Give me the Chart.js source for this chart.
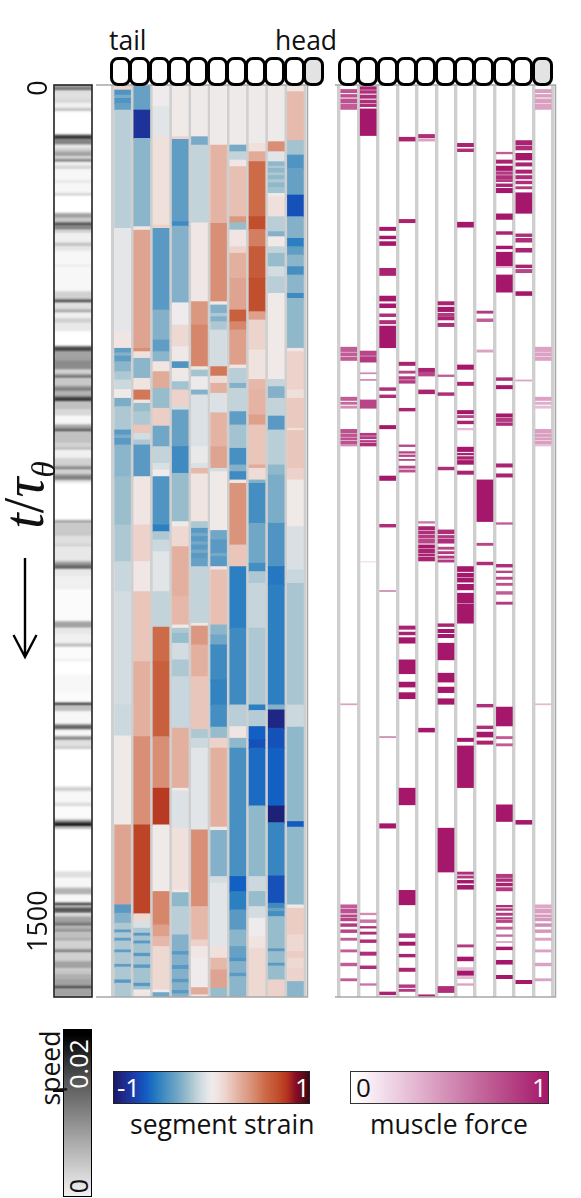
<!DOCTYPE html>
<html>
<head>
<meta charset="utf-8">
<script src="https://cdn.jsdelivr.net/npm/chart.js@4"></script>
<style>
html, body { margin: 0; padding: 0; background: #fff; }
#page { position: relative; width: 581px; height: 1198px; overflow: hidden; font-family: "Open Sans", sans-serif; color: #111; }
canvas { position: absolute; }
.lbl { position: absolute; white-space: nowrap; line-height: 1; }
.rot { transform: translate(-50%, -50%) rotate(-90deg); }
.seg { position: absolute; box-sizing: border-box; top: 57px; height: 29px; width: 21px; border: 3px solid #000; border-radius: 8px; background: #fff; }
.bar { position: absolute; box-sizing: border-box; }
</style>
</head>
<body>
<div id="page">
  <canvas id="speedChart" width="93" height="940" style="left:0;top:70px"></canvas>
  <canvas id="strainChart" width="216" height="916" style="left:94px;top:83px"></canvas>
  <canvas id="forceChart" width="224" height="916" style="left:333px;top:83px"></canvas>

  <div class="lbl" style="left:109px;top:27px;font-size:26.5px">tail</div>
  <div class="lbl" style="left:275px;top:27px;font-size:26.5px">head</div>
  <div id="segsA"></div>
  <div id="segsB"></div>

  <div class="lbl rot" style="left:24px;top:495px;font:italic 56px 'Liberation Serif'">t<span style="font-style:normal">/</span>τ<sub style="font-size:33px;line-height:0">θ</sub></div>
  <svg style="position:absolute;left:10px;top:555px" width="32" height="106" fill="none" stroke="#000" stroke-width="2.4">
    <path d="M15 3V102M3.5 80L15 102L26.5 80"/>
  </svg>

  <div id="speedBar" class="bar" style="left:63px;top:1029px;width:29px;height:168px;border:1px solid #000"></div>
  <div style="position:absolute;left:53px;top:1090px;width:10px;height:1.5px;background:#000"></div>
  <div class="lbl rot" style="left:50px;top:1068px;font-size:26.5px">speed</div>
  <div class="lbl rot" style="left:78px;top:1064px;font-size:25px;color:#fff">0.02</div>
  <div class="lbl rot" style="left:78px;top:1186px;font-size:25px">0</div>

  <div id="strainBar" class="bar" style="left:113px;top:1071px;width:197px;height:33px;border:1px solid #222"></div>
  <div class="lbl" style="left:117px;top:1074px;font-size:26px;color:#fff">-1</div>
  <div class="lbl" style="left:295px;top:1074px;font-size:26px;color:#fff">1</div>
  <div class="lbl" style="left:130px;top:1111px;font-size:26.5px">segment strain</div>

  <div id="forceBar" class="bar" style="left:350px;top:1071px;width:199px;height:33px;border:1px solid #333"></div>
  <div class="lbl" style="left:356px;top:1074px;font-size:26px">0</div>
  <div class="lbl" style="left:532px;top:1074px;font-size:26px;color:#fff">1</div>
  <div class="lbl" style="left:370px;top:1111px;font-size:26.5px">muscle force</div>
</div>
<script>
// time axis, runs are [end time, value], each run starts where the last one ended
const tMax = 1642;
const timeTicks = [0, 1500];

const speedRuns = [[5,.012],[10,.02],[24,.004],[33,.005],[42,.002],[48,.008],[90,0],[98,.026],[108,.016],[114,.003],[120,.006],[129,.012],[134,.005],[139,.017],[146,.002],[152,.006],[171,.001],[177,.003],[195,.001],[200,.006],[231,0],[240,.012],[248,.007],[253,.024],[261,.016],[267,.006],[284,.002],[291,.008],[300,.003],[324,.001],[328,.003],[372,.001],[387,.006],[392,.024],[405,.004],[410,.012],[420,.002],[429,.006],[444,.003],[471,0],[480,.024],[495,.012],[513,.015],[522,.006],[528,.018],[543,.007],[552,.016],[562,.01],[570,.026],[585,.008],[596,.005],[612,.001],[620,.012],[624,.024],[645,.008],[654,.006],[657,.012],[672,.002],[687,.006],[693,.016],[702,.006],[712,.016],[717,.004],[784,0],[789,.012],[813,.007],[826,.004],[832,.006],[858,.003],[864,.012],[872,.02],[885,.003],[909,.002],[966,.0005],[978,.012],[990,.003],[1006,.002],[1012,.009],[1035,.0005],[1038,.003],[1062,0],[1095,.001],[1113,.0005],[1117,.028],[1128,.008],[1152,.001],[1161,.02],[1173,.001],[1180,.015],[1192,.004],[1196,.008],[1264,0],[1272,.006],[1293,.001],[1299,.005],[1323,.0005],[1328,.012],[1335,.03],[1340,.01],[1416,0],[1428,.004],[1446,.001],[1458,.01],[1473,.001],[1478,.026],[1481,.004],[1491,.022],[1497,.004],[1509,.012],[1514,.02],[1521,.01],[1525,.016],[1533,.008],[1542,.01],[1557,.006],[1562,.018],[1578,.006],[1591,.012],[1600,.007],[1608,.01],[1623,.012],[1627,.026],[1642,.012]];

const strain1 = [[9,.15],[18,-.45],[24,-.33],[33,-.45],[45,-.38],[258,-.17],[444,-.04],[474,.05],[482,-.4],[488,-.3],[498,-.4],[516,-.28],[531,-.2],[548,-.12],[564,.02],[579,-.32],[621,-.2],[630,-.42],[636,-.32],[648,-.42],[705,-.28],[792,-.24],[858,-.2],[912,-.13],[1116,-.1],[1172,-.12],[1332,.02],[1476,.33],[1491,-.42],[1509,-.3],[1521,-.2],[1526,-.4],[1536,-.2],[1541,-.4],[1557,-.2],[1562,-.4],[1583,-.2],[1588,-.4],[1611,-.2],[1617,-.42],[1642,-.2]];
const strain2 = [[45,-.38],[96,-.85],[255,-.28],[261,.03],[474,.33],[480,.42],[492,.08],[528,-.28],[549,.06],[567,.5],[573,.06],[588,-.25],[612,-.2],[627,.2],[639,-.1],[648,-.2],[705,-.42],[792,.05],[858,.15],[912,.04],[1038,.2],[1173,.28],[1332,.42],[1492,.72],[1506,.12],[1518,-.08],[1527,-.2],[1532,-.42],[1541,-.22],[1546,-.42],[1563,-.22],[1569,-.42],[1584,-.22],[1590,-.42],[1617,-.22],[1623,-.42],[1629,-.22],[1634,.02],[1642,.05]];
const strain3 = [[39,.0],[93,-.05],[252,.08],[258,.15],[405,-.42],[459,-.3],[480,-.4],[498,-.28],[516,.05],[546,.3],[582,-.25],[614,.16],[651,-.35],[681,-.15],[693,-.08],[705,0],[792,-.45],[804,-.55],[819,-.2],[840,-.12],[912,-.05],[976,-.15],[1038,.55],[1173,.6],[1266,.42],[1332,.75],[1452,.02],[1512,.45],[1533,.35],[1551,.25],[1629,.12],[1634,0],[1642,-.35]];
const strain4 = [[93,.02],[98,.15],[246,-.4],[254,-.5],[392,-.3],[432,0],[471,.12],[498,.03],[510,-.45],[528,.03],[534,-.02],[549,-.22],[579,.15],[585,-.1],[651,-.38],[699,-.5],[786,-.25],[795,.02],[831,.12],[921,.28],[972,.25],[978,.02],[987,-.2],[1005,-.25],[1035,-.1],[1065,-.2],[1158,-.13],[1266,.28],[1271,.02],[1338,-.07],[1449,.08],[1454,.02],[1479,-.27],[1530,-.17],[1560,-.3],[1566,-.42],[1585,-.3],[1592,-.42],[1610,-.3],[1616,-.42],[1630,-.3],[1636,-.42],[1642,-.3]];
const strain5 = [[93,.01],[108,-.33],[248,-.15],[390,.04],[432,.38],[507,.45],[513,.06],[525,-.22],[549,-.01],[558,-.3],[651,-.07],[681,-.02],[690,-.07],[700,.25],[786,.06],[798,-.2],[807,-.42],[813,-.34],[822,-.42],[828,-.34],[837,-.42],[843,-.34],[852,-.42],[867,-.38],[969,-.15],[974,.02],[1008,.38],[1065,.28],[1160,.2],[1176,-.2],[1194,-.12],[1341,-.05],[1479,.42],[1539,.25],[1551,.15],[1572,.04],[1625,0],[1638,.3],[1642,.05]];
const strain6 = [[108,.01],[249,.27],[390,.42],[396,.02],[411,-.3],[417,-.2],[426,-.3],[441,-.2],[507,-.1],[524,.5],[537,.1],[555,.28],[590,-.07],[651,.27],[690,.33],[696,-.1],[802,.02],[819,-.35],[843,-.42],[849,-.34],[867,-.42],[873,.05],[972,.22],[990,-.28],[1008,-.35],[1071,-.5],[1116,-.53],[1156,-.48],[1176,-.25],[1194,.15],[1336,.28],[1342,.02],[1425,-.3],[1437,-.1],[1551,-.05],[1572,.08],[1593,.25],[1626,.33],[1642,-.25]];
const strain7 = [[108,.01],[120,-.33],[135,-.15],[147,.04],[237,.22],[248,.38],[261,-.25],[291,.05],[303,.15],[348,.28],[405,.33],[426,.6],[441,.45],[504,.35],[510,.05],[537,-.17],[546,-.3],[588,-.15],[612,-.4],[654,-.22],[684,-.47],[696,-.3],[711,-.5],[717,.05],[828,.4],[867,.2],[978,-.55],[1116,-.5],[1155,-.17],[1176,.05],[1194,-.27],[1425,-.47],[1452,-.66],[1485,-.55],[1521,-.42],[1551,-.28],[1572,-.38],[1578,-.45],[1599,-.3],[1605,-.42],[1642,-.28]];
const strain8 = [[105,.01],[120,.08],[138,.3],[237,.55],[260,.68],[291,.48],[348,.62],[408,.68],[423,.35],[477,.14],[530,.07],[549,.25],[594,.27],[612,.35],[684,.2],[690,.3],[711,.1],[717,-.3],[789,-.48],[861,-.35],[876,-.48],[897,-.2],[978,-.14],[1116,-.2],[1126,-.55],[1155,-.18],[1179,-.66],[1194,-.72],[1298,-.62],[1425,-.27],[1452,-.12],[1479,-.25],[1500,-.1],[1533,0],[1554,.06],[1642,.12]];
const strain9 = [[102,.01],[120,.42],[138,-.05],[146,-.27],[150,-.2],[158,-.27],[163,-.2],[170,-.27],[176,-.2],[184,-.27],[195,-.22],[201,.02],[237,.08],[264,-.17],[273,-.3],[276,.03],[291,.02],[303,-.15],[327,-.25],[345,-.1],[375,-.17],[530,.02],[543,-.14],[564,-.3],[596,-.15],[621,-.42],[684,-.17],[702,-.27],[789,-.32],[867,-.45],[900,-.58],[1116,-.55],[1125,-.3],[1158,-.92],[1194,-.72],[1298,-.66],[1328,-.95],[1424,-.52],[1473,-.72],[1482,-.5],[1488,-.38],[1497,-.48],[1555,-.25],[1560,-.42],[1581,-.25],[1586,-.42],[1611,-.25],[1642,.15]];
const strain10 = [[12,.05],[100,.24],[126,-.22],[150,-.45],[198,-.38],[237,-.72],[276,-.3],[291,-.55],[306,-.4],[327,-.28],[342,-.48],[375,-.28],[384,-.5],[474,-.27],[480,.05],[549,.15],[564,.08],[618,.18],[622,.08],[690,.2],[711,.15],[795,.02],[873,-.08],[897,-.13],[1116,-.21],[1156,-.12],[1326,-.27],[1336,-.68],[1476,-.27],[1482,.02],[1530,.17],[1560,.12],[1572,.17],[1590,.12],[1614,.14],[1642,-.28]];

// [start, end, force]
const force1 = [[8,14,.75],[17,22,.75],[25,32,.75],[34,44,.7],[472,480,.7],[482,488,.7],[490,496,.7],[562,568,.7],[571,575,.65],[578,582,.5],[620,627,.75],[629,633,.75],[635,639,.75],[641,646,.75],[647,650,.5],[1114,1116,.4],[1476,1482,.7],[1484,1491,.75],[1494,1498,.8],[1500,1505,.8],[1510,1515,.85],[1521,1526,.8],[1536,1540,.7],[1557,1561,.7],[1581,1586,.7],[1609,1613,.7]];
const force2 = [[3,8,.95],[10,15,.9],[18,24,.9],[27,32,.9],[34,39,.9],[43,91,1],[479,487,.8],[489,499,.85],[518,520,.5],[530,532,.5],[567,582,.8],[627,631,.85],[633,637,.85],[640,643,.85],[645,650,.9],[858,859,.15],[1491,1494,.5],[1503,1508,.6],[1515,1518,.9],[1525,1529,.9],[1539,1544,.9],[1561,1567,.9],[1586,1591,.9],[1618,1621,.6]];
const force3 = [[256,262,1],[272,277,1],[282,289,1],[330,343,.95],[380,389,1],[394,401,1],[412,417,.9],[424,430,.9],[434,473,1],[545,550,.9],[558,563,.9],[613,619,1],[704,712,1],[791,796,.9],[910,912,.5],[1173,1175,.5],[1330,1338,1],[1633,1638,.95]];
const force4 = [[94,101,.95],[242,248,.95],[499,505,.95],[515,519,.8],[525,530,.85],[532,537,.85],[582,587,.95],[648,651,.8],[660,663,.8],[666,669,.8],[674,676,.8],[686,690,.8],[693,697,.75],[974,980,.95],[985,990,.95],[995,1005,1],[1035,1060,1],[1075,1084,1],[1094,1105,1],[1266,1296,1],[1450,1476,1],[1528,1535,.9],[1543,1549,1],[1565,1570,.95],[1590,1596,.95],[1620,1625,.85],[1628,1632,.85]];
const force5 = [[89,95,.9],[97,101,.4],[510,517,.95],[517,524,.8],[549,556,.95],[786,789,.6],[795,801,.95],[803,808,.9],[810,816,.85],[818,825,.8],[828,834,1],[836,842,.95],[844,848,.95],[850,857,.95],[1158,1165,1],[1638,1641,.95]];
const force6 = [[390,396,.95],[400,408,1],[411,416,.85],[417,423,.95],[429,435,.9],[522,525,.7],[554,559,.9],[688,693,.9],[801,808,.9],[811,816,.85],[818,825,.9],[832,836,.8],[840,844,.85],[848,852,.85],[855,859,.85],[970,975,.95],[980,986,1],[989,995,1],[1005,1035,1],[1059,1075,1],[1084,1094,1],[1105,1115,1],[1338,1417,1],[1623,1634,.9]];
const force7 = [[105,111,.95],[115,120,.9],[247,256,1],[504,512,1],[535,541,.95],[586,592,1],[595,599,.8],[605,610,.95],[618,621,.3],[652,660,1],[663,666,.95],[669,674,.95],[676,683,1],[695,701,.95],[867,876,1],[879,886,1],[888,895,1],[899,909,1],[915,932,1],[934,969,1],[1176,1182,1],[1190,1265,1],[1417,1421,.9],[1424,1428,.85],[1432,1437,1],[1441,1448,1],[1548,1552,.85],[1570,1577,1],[1589,1593,.3],[1595,1603,1],[1605,1609,.3],[1618,1621,.4]];
const force8 = [[407,411,.85],[421,426,.7],[477,481,.4],[711,786,1],[825,829,.8],[859,864,.9],[1115,1120,.9],[1154,1159,.9],[1165,1174,1],[1181,1187,.95]];
const force9 = [[121,124,.7],[135,141,.95],[146,154,1],[156,161,.85],[163,170,.9],[171,174,.85],[178,183,.95],[186,194,1],[232,242,1],[264,269,.95],[290,295,1],[301,326,1],[327,329,.3],[342,373,1],[527,532,.9],[541,547,1],[592,598,1],[600,606,.85],[608,613,.9],[682,688,.95],[700,706,.95],[788,791,.7],[863,868,.9],[875,878,.8],[886,890,.8],[897,901,.75],[912,917,.7],[931,935,.85],[1120,1154,1],[1173,1177,.7],[1186,1190,.7],[1296,1326,1],[1421,1427,.85],[1429,1434,.9],[1437,1442,.95],[1445,1451,.85],[1477,1480,.9],[1483,1486,.9],[1491,1495,.85],[1499,1502,.85],[1504,1508,.8],[1516,1520,.7],[1530,1533,.65],[1542,1544,.4],[1552,1557,1],[1576,1583,1],[1603,1609,1]];
const force10 = [[100,108,.95],[110,117,.9],[123,135,1],[140,146,.95],[153,159,.95],[163,169,.9],[173,178,.9],[183,187,.85],[194,231,1],[268,273,.9],[276,283,.9],[294,301,.95],[324,329,.95],[332,338,.8],[372,379,1],[531,533,.4],[1324,1331,1],[1612,1618,1]];
const force11 = [[8,14,.42],[17,22,.42],[25,32,.42],[34,44,.4],[472,480,.4],[482,488,.4],[490,496,.4],[562,568,.4],[571,575,.35],[578,582,.28],[620,627,.42],[629,633,.42],[635,639,.42],[641,646,.42],[647,650,.28],[1114,1116,.3],[1476,1482,.38],[1484,1491,.42],[1494,1498,.45],[1500,1505,.45],[1510,1515,.5],[1521,1526,.45],[1536,1540,.4],[1557,1561,.4],[1581,1586,.4],[1609,1613,.4]];

const strainStopVals = [-1,-.9,-.78,-.66,-.55,-.45,-.35,-.25,-.15,-.05,0,.06,.15,.28,.42,.55,.7,.78,.86,1];
const strainStopCols = ['#1a1a66','#1f2a8c','#1a3fae','#1360c4','#2c7fc0','#4f94c2','#70a6c6','#97bccb','#c2d3da','#e1e5e7','#efebec','#f0e4e1','#ecd2ca','#e3b0a0','#d88f75','#cd6a48','#bf4a28','#b53020','#8b0e24','#3a0814'];
const forceEndCols = ['#ffffff', '#a5176a'];
const speedMax = .033;

const strainColumns = [strain1, strain2, strain3, strain4, strain5, strain6, strain7, strain8, strain9, strain10];
const forceColumns = [force1, force2, force3, force4, force5, force6, force7, force8, force9, force10, force11];

function hexRgb(h) {
    return [1, 3, 5].map(i => parseInt(h.substr(i, 2), 16));
}
function mix(a, b, f) {
    const ca = hexRgb(a), cb = hexRgb(b);
    return `rgb(${ca.map((c, i) => Math.round(c + (cb[i] - c) * f)).join(',')})`;
}
function strainColor(v) {
    let i = 0;
    while (i < strainStopVals.length - 2 && v > strainStopVals[i + 1]) i++;
    return mix(strainStopCols[i], strainStopCols[i + 1], (v - strainStopVals[i]) / (strainStopVals[i + 1] - strainStopVals[i]));
}
function forceColor(v) { return mix(forceEndCols[0], forceEndCols[1], v); }
function speedColor(v) { return mix('#ffffff', '#000000', Math.min(v / speedMax, 1)); }

// runs overlap the next one by one unit so no white seam shows between antialiased edges
function runsToBars(label, runs) {
    let start = 0;
    return runs.map(([end, v], i) => {
        const bar = { x: label, y: [start, i < runs.length - 1 ? end + 1 : end], v };
        start = end;
        return bar;
    });
}

const strainLabels = strainColumns.map((c, i) => 'seg' + (i + 1));
const forceLabels = forceColumns.map((c, i) => 'seg' + (i + 1));

// the original raster is soft, so soften the marks only
const softMarks = {
    id: 'softMarks',
    beforeDatasetsDraw(chart, args, opts) { chart.ctx.save(); chart.ctx.filter = `blur(${opts.px}px)`; },
    afterDatasetsDraw(chart) { chart.ctx.restore(); }
};
// gray lines across the top and bottom of a panel and down its right side
const panelLines = {
    id: 'panelLines',
    afterDraw(chart, args, opts) {
        const { ctx, chartArea: a } = chart;
        ctx.save();
        ctx.strokeStyle = '#a8a8a8';
        ctx.lineWidth = 1.5;
        ctx.beginPath();
        ctx.moveTo(opts.from, a.top); ctx.lineTo(a.right + 2.5, a.top);
        ctx.lineTo(a.right + 2.5, a.bottom); ctx.lineTo(opts.from, a.bottom);
        ctx.stroke();
        ctx.restore();
    }
};
const stripFrame = {
    id: 'stripFrame',
    afterDraw(chart) {
        const { ctx, chartArea: a } = chart;
        ctx.save();
        ctx.strokeStyle = '#222';
        ctx.lineWidth = 1.6;
        ctx.strokeRect(a.left, a.top, a.right - a.left, a.bottom - a.top);
        ctx.restore();
    }
};

Chart.defaults.animation = false;
Chart.defaults.responsive = false;
Chart.defaults.plugins.legend.display = false;
Chart.defaults.plugins.tooltip.enabled = false;

function heatChart(id, labels, bars, colorFn, barW, padding, lineFrom, soft) {
    return new Chart(document.getElementById(id), {
        type: 'bar',
        data: { labels, datasets: [{ data: bars, barThickness: barW, backgroundColor: c => colorFn(c.raw.v) }] },
        options: {
            layout: { padding },
            scales: {
                x: {
                    type: 'category',
                    afterFit: s => { s.height = 0; },
                    border: { display: false },
                    ticks: { display: false },
                    grid: { offset: true, color: '#cfcfcf', lineWidth: 3.4, drawTicks: false }
                },
                y: { display: false, reverse: true, min: 0, max: tMax }
            },
            plugins: { panelLines: { from: lineFrom }, softMarks: { px: soft } }
        },
        plugins: [softMarks, panelLines]
    });
}

heatChart('strainChart', strainLabels, strainColumns.flatMap((c, i) => runsToBars(strainLabels[i], c)),
    strainColor, 16, { left: 19, right: 5, top: 2, bottom: 2 }, 2, .5);

heatChart('forceChart', forceLabels, forceColumns.flatMap((c, i) => c.map(([a, b, v]) => ({ x: forceLabels[i], y: [a, b], v }))),
    forceColor, 16, { left: 6, right: 4, top: 2, bottom: 2 }, 2, .35);

new Chart(document.getElementById('speedChart'), {
    type: 'bar',
    data: { labels: ['speed'], datasets: [{ data: runsToBars('speed', speedRuns), barThickness: 38, backgroundColor: c => speedColor(c.raw.v) }] },
    options: {
        layout: { padding: { top: 15, bottom: 13, right: 1 } },
        plugins: { softMarks: { px: .9 } },
        scales: {
            x: { afterFit: s => { s.height = 0; }, border: { display: false }, ticks: { display: false }, grid: { display: false } },
            y: {
                reverse: true, min: 0, max: tMax,
                afterBuildTicks: s => { s.ticks = timeTicks.map(value => ({ value })); },
                afterFit: s => { s.width = 54; s.paddingTop = 0; s.paddingBottom = 0; },
                border: { display: false },
                grid: { display: false },
                ticks: {
                    autoSkip: false, minRotation: 90, maxRotation: 90, crossAlign: 'center',
                    padding: -24, labelOffset: 3, color: '#111',
                    font: { family: 'Open Sans', size: 27 },
                    callback: v => String(v)
                }
            }
        }
    },
    plugins: [softMarks, stripFrame]
});

// segment icons above each panel
function addSegs(id, left, pitch, n) {
    const box = document.getElementById(id);
    for (let i = 0; i < n; i++) {
        const d = document.createElement('div');
        d.className = 'seg';
        d.style.left = (left + i * pitch) + 'px';
        if (i === n - 1) d.style.background = '#e3e3e3';
        box.appendChild(d);
    }
}
addSegs('segsA', 110, 19.3, 11);
addSegs('segsB', 338, 19.35, 11);

// colour bars from the same stops as the marks
document.getElementById('strainBar').style.background = 'linear-gradient(to right,' +
    strainStopVals.map((v, i) => `${strainStopCols[i]} ${(v + 1) * 50}%`).join(',') + ')';
document.getElementById('forceBar').style.background = `linear-gradient(to right,${forceEndCols[0]} 2%,#e6bdd6 30%,#c4689c 65%,${forceEndCols[1]})`;
document.getElementById('speedBar').style.background = 'linear-gradient(to bottom,#000 3%,#555 30%,#999 60%,#f2f2f2 100%)';
</script>
</body>
</html>
